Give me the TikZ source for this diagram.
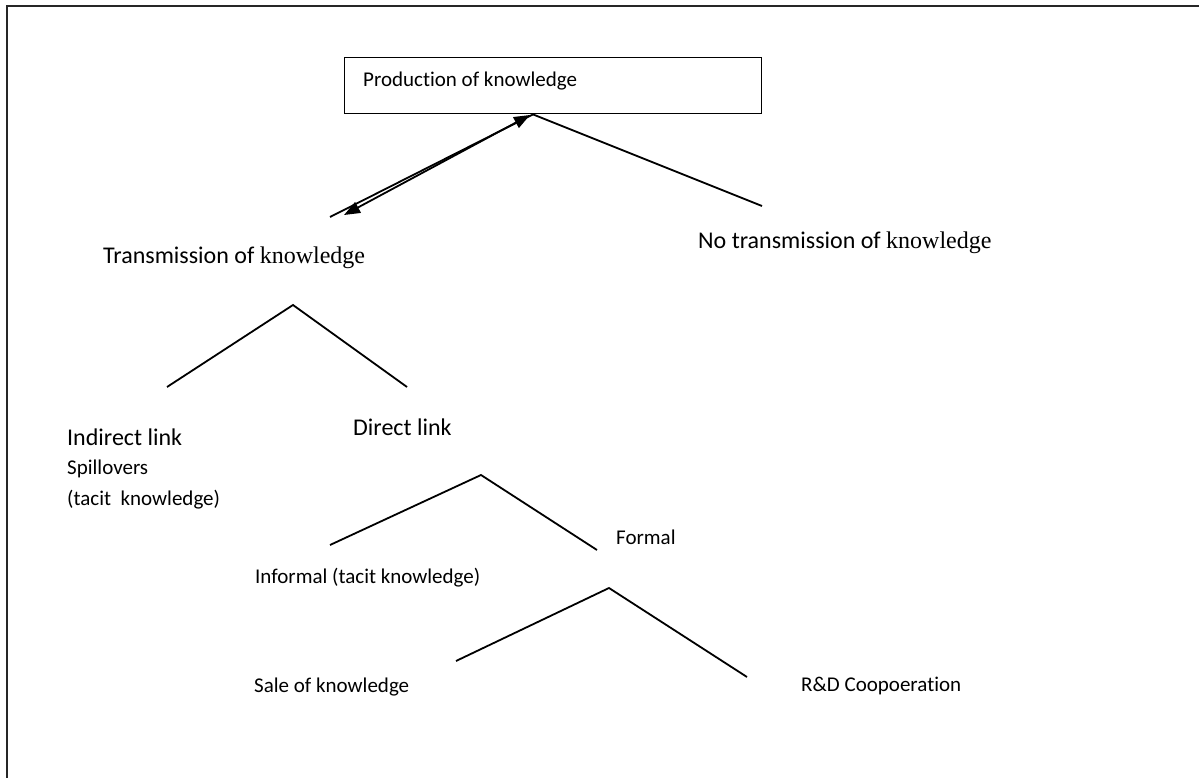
\documentclass[tikz,border=0pt]{standalone}
\usepackage{fontspec}
\setmainfont{Carlito}[Ligatures=NoCommon]
\newfontfamily\serifk{Liberation Serif}
\usetikzlibrary{arrows.meta,calc}
\begin{document}
\begin{tikzpicture}[x=1pt,y=-1pt,
  lbl/.style={anchor=west,inner sep=0pt,font=\fontsize{21}{25}\selectfont},
  biglbl/.style={anchor=west,inner sep=0pt,font=\fontsize{24}{29}\selectfont},
  branch/.style={line width=1.8pt,black},
  frameline/.style={line width=2pt,black!85}]
\useasboundingbox (0,0) rectangle (1199,778);
\draw[frameline] (7,780) -- (7,6) -- (1201,6);
% top box
\node[draw,line width=1.4pt,minimum width=417pt,minimum height=56pt,inner sep=0pt,anchor=north west] (box) at (344,57) {};
\node[lbl] (prod) at (363,81) {Production of knowledge};
\coordinate (a1) at ($(box.south west)+(189,0)$);
\coordinate (l1) at (330,217);
\coordinate (r1) at (762,206);
\coordinate (ta) at (530,115);
\coordinate (tb) at (344,215);
\draw[branch] (a1) -- (l1);
\draw[branch] (a1) -- (r1);
\draw[line width=1.8pt,{Triangle[length=16pt,width=12pt]}-{Triangle[length=16pt,width=12pt]}] (tb) -- (ta);
\node[biglbl] (trans) at (103,258) {Transmission of {\serifk knowledge}};
\node[biglbl] (notrans) at (698,243) {No transmission of {\serifk knowledge}};
% second tree
\coordinate (a2) at (293,305);
\coordinate (l2) at (167,387);
\coordinate (r2) at (407,387);
\draw[branch] (l2) -- (a2) -- (r2);
\node[biglbl] (ind) at (67,437) {Indirect link};
\node[lbl] (spill) at (67,469) {Spillovers};
\node[lbl] (tacit) at (67,500) {(tacit\ \ knowledge)};
\node[biglbl] (dir) at (353,427) {Direct link};
% third tree
\coordinate (a3) at (481,475);
\coordinate (l3) at (330,545);
\coordinate (r3) at (597,550);
\draw[branch] (l3) -- (a3) -- (r3);
\node[lbl] (formal) at (616,537) {Formal};
\node[lbl] (informal) at (255,578) {Informal (tacit knowledge)};
% fourth tree
\coordinate (a4) at (609,588);
\coordinate (l4) at (456,661);
\coordinate (r4) at (747,677);
\draw[branch] (l4) -- (a4) -- (r4);
\node[lbl] (sale) at (254,687) {Sale of knowledge};
\node[lbl] (rd) at (801,686) {R\&D Coopoeration};
\end{tikzpicture}
\end{document}
